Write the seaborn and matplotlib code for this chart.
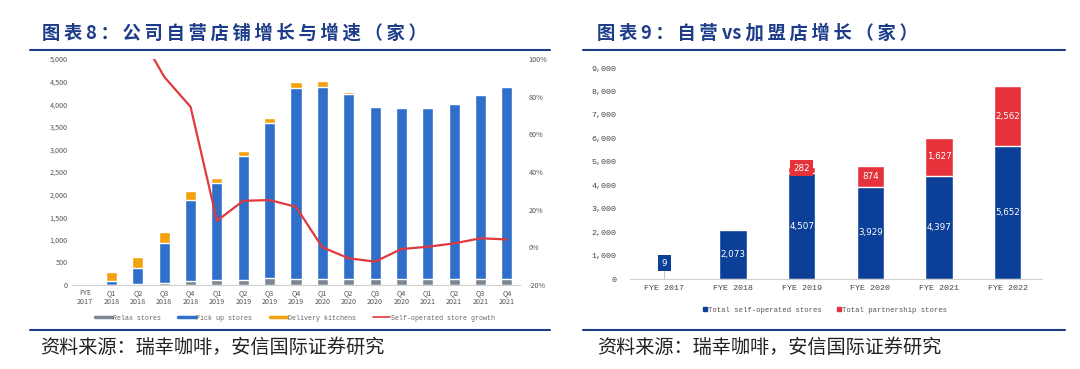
import numpy as np
import pandas as pd
import matplotlib
matplotlib.use("Agg")
import matplotlib.pyplot as plt
import seaborn as sns
from matplotlib.lines import Line2D
from matplotlib.ticker import FuncFormatter

# --- data: chart 8 (self-operated stores by type, QoQ growth)
periods = ["FYE\n2017", "Q1\n2018", "Q2\n2018", "Q3\n2018", "Q4\n2018",
           "Q1\n2019", "Q2\n2019", "Q3\n2019", "Q4\n2019",
           "Q1\n2020", "Q2\n2020", "Q3\n2020", "Q4\n2020",
           "Q1\n2021", "Q2\n2021", "Q3\n2021", "Q4\n2021"]
relax = [9, 10, 20, 50, 97, 100, 115, 155, 140, 140, 140, 140, 140, 140, 140, 140, 140]
pickup = [0, 88, 350, 870, 1780, 2150, 2740, 3420, 4227, 4233, 4080, 3790, 3783, 3785, 3870, 4063, 4240]
delivery = [0, 180, 245, 262, 196, 110, 103, 115, 125, 138, 45, 10, 6, 5, 5, 3, 2]
growth = [np.nan, np.nan, 115, 90.5, 74.6, 14.1, 24.7, 25.1, 21.5, 0.0, -5.8, -7.6, -0.9, 0.3, 2.1, 4.8, 4.2]

# --- data: chart 9 (self-operated vs partnership)
years = ["FYE 2017", "FYE 2018", "FYE 2019", "FYE 2020", "FYE 2021", "FYE 2022"]
self_op = [9, 2073, 4507, 3929, 4397, 5652]
partner = [0, 0, 282, 874, 1627, 2562]

CJK = ["Noto Sans CJK SC", "DejaVu Sans"]
MONO = ["Liberation Mono", "DejaVu Sans Mono"]
NAVY = "#1d3c8a"
GREY_C, BLUE_C, ORANGE_C, RED_C = "#7d8794", "#2f6fca", "#f2a20f", "#e0393e"
DBLUE, DRED = "#0c3f98", "#e5323b"

sns.set_theme(style="white")
plt.rcParams["font.family"] = CJK

W, H = 1080, 369
fig = plt.figure(figsize=(W / 100, H / 100), dpi=100)


def box(x0, y0, x1, y1):
    # pixel box (top-left origin) -> figure fraction rect
    return [x0 / W, 1 - y1 / H, (x1 - x0) / W, (y1 - y0) / H]


def spaced(s):
    # the report's headings are set with a little tracking
    return "\u2009".join(s)


# ---------------- left chart ----------------
df = pd.DataFrame({"period": periods, "relax": relax, "pickup": pickup,
                   "delivery": delivery, "growth": growth})
df["rp"] = df["relax"] + df["pickup"]
df["total"] = df["rp"] + df["delivery"]

ax = fig.add_axes(box(72, 59, 520, 285))
sns.barplot(data=df, x="period", y="total", color=ORANGE_C, saturation=1, width=0.42, ax=ax)
sns.barplot(data=df, x="period", y="rp", color=BLUE_C, saturation=1, width=0.42, ax=ax)
sns.barplot(data=df, x="period", y="relax", color=GREY_C, saturation=1, width=0.42, ax=ax)
ax.set_ylim(0, 5000)
ax.set_xlim(-0.5, 16.5)
ax.set_yticks(range(0, 5001, 500))
ax.yaxis.set_major_formatter(FuncFormatter(lambda v, p: f"{int(v):,}"))
ax.set_xlabel("")
ax.set_ylabel("")
ax.tick_params(axis="both", labelsize=5.2, colors="#555555", length=0, pad=3)
for s in ["top", "right", "left"]:
    ax.spines[s].set_visible(False)
ax.spines["bottom"].set_color("#d0d0d0")
ax.spines["bottom"].set_linewidth(0.8)

ax2 = ax.twinx()
sns.lineplot(x=np.arange(len(periods)), y=df["growth"], color=RED_C, lw=1.6, ax=ax2)
ax2.set_ylim(-20, 100)
ax2.set_yticks(range(-20, 101, 20))
ax2.yaxis.set_major_formatter(FuncFormatter(lambda v, p: f"{int(v)}%"))
ax2.tick_params(axis="y", labelsize=5.2, colors="#555555", length=0, pad=6)
ax2.set_ylabel("")
for s in ["top", "right", "left", "bottom"]:
    ax2.spines[s].set_visible(False)

handles = [Line2D([], [], color=GREY_C, lw=2.5), Line2D([], [], color=BLUE_C, lw=2.5),
           Line2D([], [], color=ORANGE_C, lw=2.5), Line2D([], [], color=RED_C, lw=1.2)]
labels = ["Relax stores", "Pick up stores", "Delivery kitchens", "Self-operated store growth"]
fig.legend(handles, labels, loc="center", bbox_to_anchor=(295 / W, 1 - 318 / H), ncol=4,
           frameon=False, prop={"family": MONO, "size": 4.8}, handlelength=2.6,
           handletextpad=0.1, columnspacing=2.6, labelcolor="#666666")

# ---------------- right chart ----------------
df2 = pd.DataFrame({"year": years, "self_op": self_op, "partner": partner})
df2["total"] = df2["self_op"] + df2["partner"]

bx = fig.add_axes(box(630, 68, 1042, 279))
sns.barplot(data=df2, x="year", y="total", color=DRED, saturation=1, width=0.4, ax=bx)
sns.barplot(data=df2, x="year", y="self_op", color=DBLUE, saturation=1, width=0.4, ax=bx)
bx.set_ylim(0, 9000)
bx.set_xlim(-0.5, 5.5)
bx.set_yticks(range(0, 9001, 1000))
bx.yaxis.set_major_formatter(FuncFormatter(lambda v, p: f"{int(v):,}"))
bx.set_xlabel("")
bx.set_ylabel("")
bx.tick_params(axis="y", labelsize=6, colors="#444444", length=0, pad=10)
bx.tick_params(axis="x", labelsize=6, colors="#444444", length=0, pad=4)
for t in bx.get_xticklabels() + bx.get_yticklabels():
    t.set_fontfamily(MONO)
for s in ["top", "right", "left"]:
    bx.spines[s].set_visible(False)
bx.spines["bottom"].set_color("#d0d0d0")
bx.spines["bottom"].set_linewidth(0.8)

lab = dict(color="white", fontsize=6.3, ha="center", va="center", family="DejaVu Sans")
for i, (s, p) in enumerate(zip(self_op, partner)):
    if s < 500:
        bx.plot([i, i], [s, 380], color="#bbbbbb", lw=0.6)
        bx.text(i, 680, f"{s:,}", bbox=dict(facecolor=DBLUE, edgecolor="none", pad=2.5), **lab)
    else:
        bx.text(i, s / 2, f"{s:,}", **lab)
    if p > 500:
        bx.text(i, s + p / 2, f"{p:,}", **lab)
    elif p > 0:
        bx.text(i, s + 220, f"{p:,}", bbox=dict(facecolor=DRED, edgecolor="none", pad=2.5), **lab)

h2 = [Line2D([], [], marker="s", color=DBLUE, lw=0, markersize=3),
      Line2D([], [], marker="s", color=DRED, lw=0, markersize=3)]
fig.legend(h2, ["Total self-operated stores", "Total partnership stores"], loc="center",
           bbox_to_anchor=(825 / W, 1 - 310 / H), ncol=2, frameon=False,
           prop={"family": MONO, "size": 5.2}, handlelength=0.6, handletextpad=0.2,
           columnspacing=2.0, labelcolor="#555555")

# ---------------- titles, rules, source ----------------
fig.text(42 / W, 1 - 33 / H, spaced("图表8：公司自营店铺增长与增速（家）"), fontsize=13.2,
         fontweight="bold", color=NAVY, va="center", family=CJK)
fig.text(597 / W, 1 - 33 / H, spaced("图表9：自营") + " vs " + spaced("加盟店增长（家）"),
         fontsize=13.2, fontweight="bold", color=NAVY, va="center", family=CJK)
for x0, x1 in [(30, 550), (583, 1065)]:
    fig.add_artist(Line2D([x0 / W, x1 / W], [1 - 50 / H] * 2, color=NAVY, lw=1.5))
    fig.add_artist(Line2D([x0 / W, x1 / W], [1 - 330 / H] * 2, color=NAVY, lw=1.5))
for x0 in [40, 597]:
    fig.text(x0 / W, 1 - 347 / H, "资料来源：瑞幸咖啡，安信国际证券研究", fontsize=13.8,
             color="#222222", va="center", style="italic", family=CJK)

fig.savefig("out.png", dpi=100)
